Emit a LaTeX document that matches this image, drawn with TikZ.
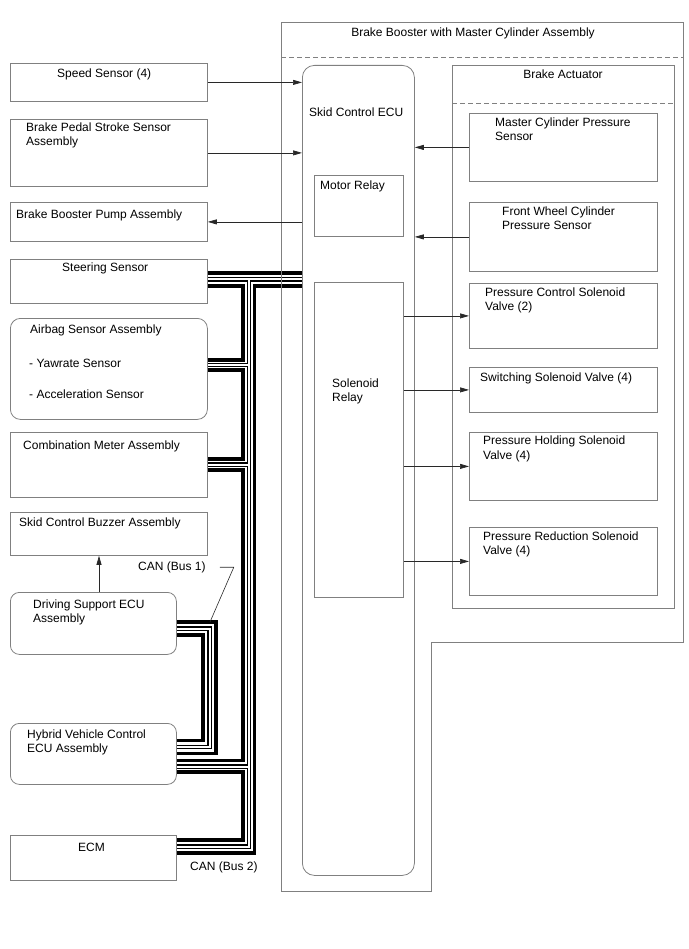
\documentclass[tikz,border=0pt]{standalone}
\usepackage{fontspec}
\setmainfont{Liberation Sans}
\usetikzlibrary{positioning,arrows.meta,backgrounds}
\definecolor{boxgray}{RGB}{128,128,128}
\definecolor{wiregray}{RGB}{40,40,40}

\begin{document}
\begin{tikzpicture}[x=1pt,y=-1pt,
  font=\fontsize{12}{14.5}\selectfont,
  part/.style={draw=boxgray,line width=0.8pt,anchor=north west,inner sep=0pt},
  txt/.style={anchor=north west,inner sep=0pt,align=left},
  sig/.style={wiregray,line width=0.7pt,-{Triangle[length=9pt,width=5pt]}},
  canthick/.style={black,line width=3.1pt},
  canout/.style={black,line width=4.1pt},
  canin/.style={white,line width=2pt}]
\useasboundingbox (0,0) rectangle (688,949);

% Brake booster outline
\draw[boxgray,line width=0.8pt] (281,22) -- (683,22) -- (683,642) -- (431,642) -- (431,891) -- (281,891) -- cycle;
\draw[boxgray,line width=0.8pt,dash pattern=on 5pt off 3pt] (281,57.5) -- (683,57.5);
\node[anchor=north,inner sep=0pt] (boostertxt) at (473,27.5) {Brake Booster with Master Cylinder Assembly};

% LEFT: sensors and ECUs
\node[part,minimum width=197pt,minimum height=38pt] (speed) at (10,63) {};
\node[txt] (speedtxt) at (57,68.5) {Speed Sensor (4)};
\node[part,minimum width=197pt,minimum height=67pt] (pedal) at (10,119) {};
\node[txt] (pedaltxt) at (26,122.5) {Brake Pedal Stroke Sensor\\Assembly};
\node[part,minimum width=197pt,minimum height=39pt] (pump) at (10,202) {};
\node[txt] (pumptxt) at (16,209.5) {Brake Booster Pump Assembly};
\node[part,minimum width=197pt,minimum height=44pt] (steer) at (10,259) {};
\node[txt] (steertxt) at (62,262.5) {Steering Sensor};
\node[part,rounded corners=10pt,minimum width=197pt,minimum height=101pt] (airbag) at (10,318) {};
\node[txt] (airbagtxt) at (30,324.5) {Airbag Sensor Assembly};
\node[txt] (yawtxt) at (29,358.5) {- Yawrate Sensor};
\node[txt] (acctxt) at (29,389.5) {- Acceleration Sensor};
\node[part,minimum width=197pt,minimum height=65pt] (combo) at (10,432) {};
\node[txt] (combotxt) at (23,440.5) {Combination Meter Assembly};
\node[part,minimum width=197pt,minimum height=43pt] (buzzer) at (10,512) {};
\node[txt] (buzzertxt) at (19,517.5) {Skid Control Buzzer Assembly};
\node[txt] (bus1) at (138,561.5) {CAN (Bus 1)};
\node[part,rounded corners=9pt,minimum width=166pt,minimum height=62pt] (ds) at (10,592) {};
\node[txt] (dstxt) at (33,599.5) {Driving Support ECU\\Assembly};
\node[part,rounded corners=9pt,minimum width=166pt,minimum height=61pt] (hybrid) at (10,723) {};
\node[txt] (hybridtxt) at (27,729.5) {Hybrid Vehicle Control\\ECU Assembly};
\node[part,minimum width=166pt,minimum height=45pt] (ecm) at (10,835) {};
\node[txt] (ecmtxt) at (78,842.5) {ECM};
\node[txt] (bus2) at (190,861.5) {CAN (Bus 2)};

% MIDDLE: skid control ECU
\node[part,rounded corners=12pt,minimum width=112pt,minimum height=810pt] (ecu) at (302,65) {};
\node[txt] (ecutxt) at (309,107.5) {Skid Control ECU};
\node[part,minimum width=89pt,minimum height=61pt] (relay) at (314,175) {};
\node[txt] (relaytxt) at (320,180.5) {Motor Relay};
\node[part,minimum width=89pt,minimum height=315pt] (solrelay) at (314,282) {};
\node[txt] (solrelaytxt) at (332,378.5) {Solenoid\\Relay};

% RIGHT: brake actuator
\node[part,minimum width=222pt,minimum height=543pt] (actuator) at (452,65) {};
\node[anchor=north,inner sep=0pt] (actuatortxt) at (563,69.5) {Brake Actuator};
\draw[boxgray,line width=0.8pt,dash pattern=on 5pt off 3pt] (actuator.west |- 0,103) -- (actuator.east |- 0,103);
\node[part,minimum width=188pt,minimum height=68pt] (mcps) at (469,113) {};
\node[txt] (mcpstxt) at (495,117.5) {Master Cylinder Pressure\\Sensor};
\node[part,minimum width=188pt,minimum height=69pt] (fwcps) at (469,202) {};
\node[txt] (fwcpstxt) at (502,206.5) {Front Wheel Cylinder\\Pressure Sensor};
\node[part,minimum width=188pt,minimum height=65pt] (pcsv) at (469,283) {};
\node[txt] (pcsvtxt) at (485,287.5) {Pressure Control Solenoid\\Valve (2)};
\node[part,minimum width=188pt,minimum height=45pt] (swsv) at (469,367) {};
\node[txt] (swsvtxt) at (480,372.5) {Switching Solenoid Valve (4)};
\node[part,minimum width=188pt,minimum height=68pt] (phsv) at (469,432) {};
\node[txt] (phsvtxt) at (483,436) {Pressure Holding Solenoid\\Valve (4)};
\node[part,minimum width=188pt,minimum height=68pt] (prsv) at (469,527) {};
\node[txt] (prsvtxt) at (483,531.5) {Pressure Reduction Solenoid\\Valve (4)};

% signal lines
\draw[sig] (speed.east) -- (speed.east -| ecu.west);
\draw[sig] (pedal.east) -- (pedal.east -| ecu.west);
\draw[sig] (ecu.west |- pump.east) -- (pump.east);
\draw[sig] (mcps.west) -- (mcps.west -| ecu.east);
\draw[sig] (fwcps.west) -- (fwcps.west -| ecu.east);
\foreach \v in {pcsv,swsv,phsv,prsv}
  \draw[sig] (solrelay.east |- \v.west) -- (\v.west);
\draw[sig] (ds.north -| 99,0) -- (buzzer.south -| 99,0);

% CAN bus lines
\begin{scope}[on background layer]
\draw[canthick] (ecu.west |- 0,273) -- (steer.east |- 0,273);
\draw[canthick] (steer.east |- 0,286) -- (243,286) -- (243,360) -- (airbag.east |- 0,360);
\draw[canthick] (airbag.east |- 0,370) -- (243,370) -- (243,459) -- (combo.east |- 0,459);
\draw[canthick] (combo.east |- 0,470) -- (243,470) -- (243,760.5) -- (hybrid.east |- 0,760.5);
\draw[canthick] (hybrid.east |- 0,772) -- (243,772) -- (243,840) -- (ecm.east |- 0,840);
\draw[canthick] (ecu.west |- 0,286) -- (254.5,286) -- (254.5,853) -- (ecm.east |- 0,853);
% bus 1 loop
\draw[canthick] (ds.east |- 0,622) -- (216,622) -- (216,753.5) -- (hybrid.east |- 0,753.5);
\draw[canthick] (ds.east |- 0,635) -- (203,635) -- (203,740.5) -- (hybrid.east |- 0,740.5);
% hollow wires
\foreach \st in {canout,canin} {
  \draw[\st] (ecu.west |- 0,279.5) -- (steer.east |- 0,279.5);
  \draw[\st] (248.7,279.5) -- (248.7,846.5) -- (ecm.east |- 0,846.5);
  \draw[\st] (airbag.east |- 0,365) -- (248.7,365);
  \draw[\st] (combo.east |- 0,464.5) -- (248.7,464.5);
  \draw[\st] (hybrid.east |- 0,766.5) -- (248.7,766.5);
  \draw[\st] (ds.east |- 0,628.5) -- (209.5,628.5) -- (209.5,747) -- (hybrid.east |- 0,747);
}
\end{scope}

% bus label leader
\coordinate (tap1) at (210,622);
\draw[wiregray,line width=0.6pt] (bus1.east) ++(14,0) -- ++(14,0) -- (tap1);

\end{tikzpicture}
\end{document}
